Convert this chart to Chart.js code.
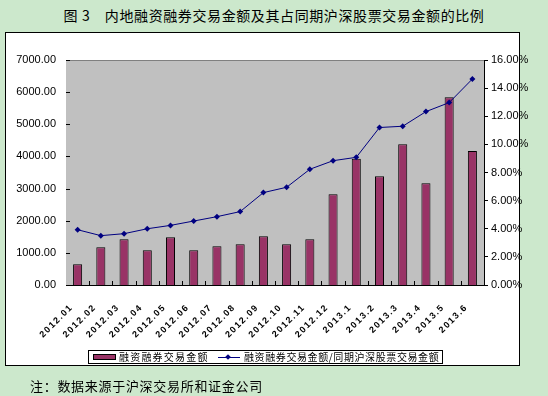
<!DOCTYPE html>
<html>
<head>
<meta charset="utf-8">
<script src="https://cdn.jsdelivr.net/npm/chart.js@4/dist/chart.umd.min.js"></script>
<style>
    html, body {
        margin: 0;
        padding: 0;
    }
    body {
        width: 548px;
        height: 396px;
        background: #cce8cc;
        position: relative;
        overflow: hidden;
        font-family: 'Noto Sans CJK SC', sans-serif;
    }
    .title {
        position: absolute;
        left: 0;
        top: 5px;
        width: 548px;
        text-align: center;
        font-size: 14px;
        letter-spacing: 0.6px;
        line-height: 20px;
        color: #000;
    }
    .box {
        position: absolute;
        left: 5px;
        top: 32px;
        width: 513px;
        height: 332px;
        background: #fff;
        border: 1px solid #000;
    }
    #chart {
        position: absolute;
        left: 0;
        top: 0;
    }
    .legend {
        position: absolute;
        left: 88px;
        top: 350px;
        width: 353px;
        height: 12px;
        border: 1px solid #000;
        background: #fff;
        font-size: 10px;
        line-height: 12px;
        letter-spacing: 1.2px;
        white-space: nowrap;
        z-index: 2;
    }
    .legend span {
        position: absolute;
        top: 0;
    }
    .swatch {
        position: absolute;
        left: 4px;
        top: 3px;
        width: 21px;
        height: 4px;
        background: #993366;
        border: 1px solid #000;
    }
    .lineKey {
        position: absolute;
        left: 129px;
        top: 6px;
        width: 22px;
        height: 1px;
        background: #000080;
    }
    .lineKey::after {
        content: '';
        position: absolute;
        left: 8px;
        top: -2px;
        width: 4px;
        height: 4px;
        background: #000080;
        transform: rotate(45deg);
    }
    .note {
        position: absolute;
        left: 30px;
        top: 377px;
        font-size: 13px;
        letter-spacing: 0.7px;
        line-height: 18px;
        color: #000;
    }
</style>
</head>
<body>
<div class="title">图 3　内地融资融券交易金额及其占同期沪深股票交易金额的比例</div>
<div class="box"></div>
<canvas id="chart" width="548" height="396"></canvas>
<div class="legend">
    <div class="swatch"></div>
    <span style="left: 30px;">融资融券交易金额</span>
    <div class="lineKey"></div>
    <span style="left: 155px; letter-spacing: 0.6px;">融资融券交易金额/同期沪深股票交易金额</span>
</div>
<div class="note">注：数据来源于沪深交易所和证金公司</div>

<script>
// Data
const months = ['2012.01', '2012.02', '2012.03', '2012.04', '2012.05', '2012.06',
    '2012.07', '2012.08', '2012.09', '2012.10', '2012.11', '2012.12',
    '2013.1', '2013.2', '2013.3', '2013.4', '2013.5', '2013.6'];
const tradeAmount = [645, 1175, 1420, 1080, 1485, 1080, 1205, 1270, 1515, 1270, 1420,
    2825, 3925, 3385, 4380, 3165, 5845, 4170];
const ratioPct = [3.93, 3.51, 3.65, 4.0, 4.24, 4.55, 4.86, 5.22, 6.57, 6.95, 8.23,
    8.84, 9.08, 11.2, 11.29, 12.33, 12.97, 14.65];
const amountTicks = [0, 1000, 2000, 3000, 4000, 5000, 6000, 7000];
const ratioTicks = [0, 2, 4, 6, 8, 10, 12, 14, 16];

const axisFont = { family: "'Liberation Sans', Arial, sans-serif", size: 11 };

// Gray plot area, gray top edge and small inside tick marks
const plotFrame = {
    id: 'plotFrame',
    beforeDatasetsDraw(chart) {
        const { ctx, chartArea: a } = chart;
        ctx.save();
        ctx.fillStyle = '#c0c0c0';
        ctx.fillRect(a.left, a.top, a.right - a.left, a.bottom - a.top);
        ctx.strokeStyle = '#808080';
        ctx.lineWidth = 1;
        ctx.beginPath();
        ctx.moveTo(a.left, a.top + 0.5);
        ctx.lineTo(a.right, a.top + 0.5);
        ctx.stroke();

        ctx.strokeStyle = '#000';
        ctx.beginPath();
        const x = chart.scales.x;
        const step = (a.right - a.left) / months.length;
        for (let i = 1; i < months.length; i++) {
            const px = Math.round(x.getPixelForValue(i) - step / 2) + 0.5;
            ctx.moveTo(px, a.bottom);
            ctx.lineTo(px, a.bottom - 4);
        }
        const y = chart.scales.y;
        amountTicks.forEach((v) => {
            const py = Math.round(y.getPixelForValue(v)) + 0.5;
            ctx.moveTo(a.left, py);
            ctx.lineTo(a.left + 4, py);
        });
        ctx.stroke();
        ctx.restore();
    },
    beforeDraw(chart) {
        // spaced-out category labels like the original
        const xs = chart.scales.x;
        if (xs && !xs._spaced) {
            const draw = xs.drawLabels.bind(xs);
            xs.drawLabels = function (area) {
                chart.ctx.save();
                chart.ctx.letterSpacing = '1.5px';
                draw(area);
                chart.ctx.restore();
            };
            xs._spaced = true;
        }
    }
};

const ctx = document.getElementById('chart').getContext('2d');
const chart = new Chart(ctx, {
    data: {
        labels: months,
        datasets: [{
            type: 'line',
            label: '融资融券交易金额/同期沪深股票交易金额',
            data: ratioPct,
            yAxisID: 'y1',
            borderColor: '#000080',
            backgroundColor: '#000080',
            borderWidth: 1,
            pointStyle: 'rectRot',
            pointRadius: 3,
            pointBorderWidth: 0,
            tension: 0,
            order: 0
        }, {
            type: 'bar',
            label: '融资融券交易金额',
            data: tradeAmount,
            yAxisID: 'y',
            backgroundColor: '#993366',
            borderColor: '#000',
            borderWidth: 1,
            categoryPercentage: 1,
            barPercentage: 0.39,
            order: 1
        }]
    },
    options: {
        responsive: false,
        animation: false,
        layout: {
            padding: { top: 60, left: 0, right: 0, bottom: 0 }
        },
        plugins: {
            legend: { display: false },
            tooltip: { enabled: false }
        },
        scales: {
            x: {
                grid: { display: false, drawTicks: false },
                border: { display: true, color: '#000' },
                ticks: {
                    color: '#000',
                    font: { family: "'Liberation Sans', Arial, sans-serif", size: 9, weight: 'bold' },
                    minRotation: 45,
                    maxRotation: 45,
                    autoSkip: false,
                    labelOffset: -6,
                    padding: 17
                },
                afterFit(scale) {
                    scale.height = 111;
                }
            },
            y: {
                position: 'left',
                min: 0,
                max: 7000,
                afterBuildTicks(scale) {
                    scale.ticks = amountTicks.map((v) => ({ value: v }));
                },
                grid: { display: false, drawTicks: false },
                border: { display: true, color: '#000' },
                ticks: {
                    color: '#000',
                    font: axisFont,
                    padding: 10,
                    callback: (v) => v.toFixed(2)
                },
                afterFit(scale) {
                    scale.width = 66;
                }
            },
            y1: {
                position: 'right',
                min: 0,
                max: 16,
                afterBuildTicks(scale) {
                    scale.ticks = ratioTicks.map((v) => ({ value: v }));
                },
                grid: { drawOnChartArea: false, color: '#000', tickLength: 4 },
                border: { display: true, color: '#000' },
                ticks: {
                    color: '#000',
                    font: axisFont,
                    padding: 3,
                    callback: (v) => v.toFixed(2) + '%'
                },
                afterFit(scale) {
                    scale.width = 64;
                }
            }
        }
    },
    plugins: [plotFrame]
});
</script>
</body>
</html>
